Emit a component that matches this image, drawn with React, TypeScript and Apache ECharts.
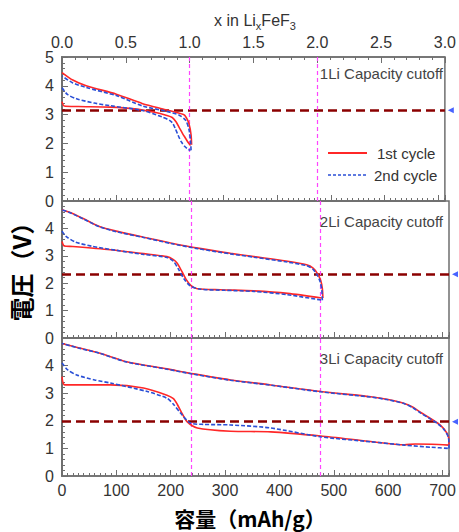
import React, { useEffect, useRef } from "react";
import * as echarts from "echarts";

// ---- data ----
const X_MAX = 712; // mAh/g for 3 Li
const LI_CAP = X_MAX / 3; // capacity per Li
const topTicks = [0, 0.5, 1, 1.5, 2, 2.5, 3];
const cutoffV = [3.15, 2.33, 1.97];
const panelLabels = ["1Li Capacity cutoff", "2Li Capacity cutoff", "3Li Capacity cutoff"];
const legendNames = ["1st cycle", "2nd cycle"];

// 1Li panel
const dis1_1Li = [[0, 3.45], [4, 3.3], [30, 3.28], [89, 3.26], [135, 3.2], [172, 3.08], [195, 2.97], [205, 2.9], [212, 2.75], [218, 2.55], [224, 2.35], [230, 2.17], [235, 2.02], [239, 1.93]];
const chg1_1Li = [[241, 1.95], [240, 2.3], [236, 2.69], [231, 2.9], [226, 3.0], [193, 3.17], [150, 3.38], [101, 3.71], [45, 4.0], [20, 4.2], [0, 4.46]];
const dis2_1Li = [[0, 3.93], [10, 3.7], [27, 3.55], [60, 3.4], [89, 3.31], [150, 3.14], [186, 2.92], [200, 2.8], [206, 2.7], [211, 2.5], [216, 2.28], [222, 2.05], [228, 1.9], [234, 1.8], [239, 1.76]];
const chg2_1Li = [[240, 1.76], [239, 2.1], [236, 2.5], [230, 2.8], [218, 2.98], [193, 3.12], [150, 3.3], [101, 3.66], [45, 3.94], [20, 4.1], [0, 4.34]];

// 2Li panel
const dis1_2Li = [[0, 3.52], [4, 3.36], [20, 3.34], [89, 3.22], [150, 3.08], [193, 2.97], [205, 2.86], [212, 2.73], [220, 2.45], [228, 2.15], [238, 1.9], [249, 1.8], [291, 1.76], [353, 1.72], [415, 1.63], [478, 1.46]];
const chg1_2Li = [[480, 1.46], [479, 1.8], [476, 2.1], [470, 2.35], [462, 2.55], [450, 2.67], [415, 2.8], [353, 2.97], [310, 3.09], [250, 3.28], [200, 3.47], [150, 3.68], [100, 3.9], [70, 4.06], [40, 4.35], [15, 4.58], [0, 4.68]];
const dis2_2Li = [[0, 3.9], [8, 3.7], [25, 3.5], [55, 3.35], [100, 3.2], [150, 3.05], [193, 2.94], [205, 2.8], [214, 2.52], [224, 2.17], [236, 1.9], [255, 1.78], [300, 1.74], [353, 1.7], [415, 1.58], [478, 1.38]];
const chg2_2Li = [[479, 1.38], [478, 1.75], [475, 2.05], [469, 2.32], [461, 2.52], [450, 2.64], [415, 2.77], [353, 2.95], [310, 3.07], [250, 3.26], [200, 3.45], [150, 3.67], [100, 3.88], [70, 4.05], [40, 4.34], [15, 4.57], [0, 4.68]];

// 3Li panel
const dis1_3Li = [[0, 3.6], [5, 3.3], [89, 3.3], [150, 3.19], [193, 2.93], [205, 2.8], [212, 2.6], [220, 2.3], [230, 1.97], [249, 1.74], [310, 1.62], [384, 1.6], [476, 1.45], [568, 1.25], [630, 1.13], [650, 1.16], [680, 1.15], [712, 1.12]];
const chg1_3Li = [[712, 1.12], [711, 1.42], [703, 1.7], [691, 1.92], [675, 2.12], [660, 2.3], [645, 2.5], [630, 2.63], [600, 2.77], [568, 2.87], [476, 3.06], [384, 3.3], [310, 3.48], [242, 3.7], [193, 3.88], [119, 4.14], [70, 4.45], [30, 4.65], [0, 4.8]];
const dis2_3Li = [[0, 4.1], [10, 3.85], [27, 3.66], [60, 3.48], [89, 3.37], [157, 3.06], [193, 2.82], [205, 2.6], [218, 2.28], [236, 1.92], [260, 1.87], [310, 1.85], [384, 1.74], [476, 1.42], [568, 1.24], [630, 1.12], [680, 1.04], [712, 1.0]];
const chg2_3Li = [[712, 1.0], [711, 1.4], [703, 1.68], [691, 1.9], [675, 2.1], [660, 2.28], [645, 2.48], [630, 2.62], [600, 2.76], [568, 2.86], [476, 3.05], [384, 3.29], [310, 3.47], [242, 3.69], [193, 3.87], [119, 4.13], [70, 4.44], [30, 4.64], [0, 4.8]];

const panels = [
  { first: [dis1_1Li, chg1_1Li], second: [dis2_1Li, chg2_1Li] },
  { first: [dis1_2Li, chg1_2Li], second: [dis2_2Li, chg2_2Li] },
  { first: [dis1_3Li, chg1_3Li], second: [dis2_3Li, chg2_3Li] },
];

// ---- styles ----
const RED = "#ff2727";
const BLUE = "#2a4fd6";
const AXIS = "#6f6f6f";
const FONT = "Liberation Sans, Arial, sans-serif";
const CJK = "Noto Sans CJK JP, sans-serif";

const grids = [
  { left: 62, top: 57, width: 387, height: 144 },
  { left: 62, top: 201, width: 387, height: 137 },
  { left: 62, top: 338, width: 387, height: 138 },
];

export default function App() {
  const ref = useRef<HTMLDivElement>(null);

  useEffect(() => {
    if (!ref.current) return;
    const chart = echarts.init(ref.current, undefined, { renderer: "svg" });

    const lineSeries = (name: string, data: number[][], i: number, color: string, dashed: boolean) => ({
      type: "line",
      name,
      data,
      xAxisIndex: i,
      yAxisIndex: i,
      symbol: "none",
      showSymbol: false,
      smooth: 0.25,
      z: dashed ? 4 : 3,
      lineStyle: { color, width: 1.6, type: dashed ? [4, 2] : "solid" },
      itemStyle: { color },
    });

    const series: any[] = [];
    panels.forEach((p, i) => {
      p.first.forEach((d) => series.push(lineSeries(legendNames[0], d, i, RED, false)));
      p.second.forEach((d) => series.push(lineSeries(legendNames[1], d, i, BLUE, true)));
      series.push({
        type: "scatter",
        name: "cutoff" + i,
        xAxisIndex: i,
        yAxisIndex: i,
        data: [[X_MAX + 11, cutoffV[i]]],
        symbol: "triangle",
        symbolSize: 6,
        symbolRotate: 90,
        clip: false,
        silent: true,
        z: 5,
        itemStyle: { color: "#1a3cff" },
        markLine: {
          symbol: "none",
          silent: true,
          z: 2,
          label: { show: false },
          data: [
            { yAxis: cutoffV[i], lineStyle: { color: "#8b0000", width: 2.6, type: [9, 5] } },
            { xAxis: LI_CAP, lineStyle: { color: "#ff44ff", width: 1.2, type: [4, 3] } },
            { xAxis: 2 * LI_CAP, lineStyle: { color: "#ff44ff", width: 1.2, type: [4, 3] } },
          ],
        },
      });
    });

    const xAxes: any[] = grids.map((_, i) => ({
      type: "value",
      gridIndex: i,
      position: "bottom",
      min: 0,
      max: X_MAX,
      interval: 100,
      axisLine: { show: true, lineStyle: { color: AXIS, width: 1.5 } },
      axisTick: { show: true, inside: true, length: 6, lineStyle: { color: AXIS } },
      minorTick: { show: true, splitNumber: 10, length: 3, lineStyle: { color: AXIS } },
      splitLine: { show: false },
      axisLabel: {
        show: i === 2,
        showMaxLabel: false,
        margin: 6,
        fontSize: 16,
        color: "#333",
        fontFamily: FONT,
      },
    }));
    xAxes.push({
      type: "value",
      gridIndex: 0,
      position: "top",
      min: topTicks[0],
      max: topTicks[topTicks.length - 1],
      interval: 0.5,
      axisLine: { show: true, lineStyle: { color: AXIS, width: 1.5 } },
      axisTick: { show: true, inside: true, length: 6, lineStyle: { color: AXIS } },
      minorTick: { show: true, splitNumber: 5, length: 3, lineStyle: { color: AXIS } },
      splitLine: { show: false },
      axisLabel: {
        margin: 7,
        fontSize: 16,
        color: "#333",
        fontFamily: FONT,
        formatter: (v: number) => v.toFixed(1),
      },
    });

    const yAxes = grids.map((_, i) => ({
      type: "value",
      gridIndex: i,
      min: 0,
      max: 5,
      interval: 1,
      axisLine: { show: true, lineStyle: { color: AXIS, width: 2 } },
      axisTick: { show: true, inside: true, length: 6, lineStyle: { color: AXIS } },
      minorTick: { show: true, splitNumber: 5, length: 3, lineStyle: { color: AXIS } },
      splitLine: { show: false },
      axisLabel: {
        margin: 8,
        fontSize: 16,
        color: "#333",
        fontFamily: FONT,
        showMaxLabel: i === 0,
      },
    }));

    const graphics: any[] = [
      {
        type: "text",
        x: 255,
        y: 20,
        style: {
          text: "x in Li{s|x}FeF{s|3}",
          fill: "#333",
          font: `16px ${FONT}`,
          align: "center",
          verticalAlign: "middle",
          rich: {
            s: { fontSize: 11, fontFamily: FONT, fill: "#333", lineHeight: 11, verticalAlign: "bottom" },
          },
          lineHeight: 23,
        },
      },
      {
        type: "text",
        x: 250,
        y: 518,
        style: {
          text: "容量（mAh/g）",
          fill: "#000",
          font: `bold 21px ${CJK}`,
          align: "center",
          verticalAlign: "middle",
        },
      },
      {
        type: "text",
        x: 20,
        y: 266,
        rotation: Math.PI / 2,
        style: {
          text: "電圧（V）",
          fill: "#000",
          font: `bold 24px ${CJK}`,
          align: "center",
          verticalAlign: "middle",
        },
      },
    ];
    const labelY = [73, 221, 358];
    panelLabels.forEach((t, i) => {
      graphics.push({
        type: "text",
        x: 443,
        y: labelY[i],
        z: 10,
        style: { text: t, fill: "#444", font: `15px ${FONT}`, align: "right", verticalAlign: "middle" },
      });
    });
    // legend (inside the top panel)
    const legendRows = [
      { name: legendNames[0], color: RED, dash: "solid", y: 153, tx: 377 },
      { name: legendNames[1], color: BLUE, dash: [3, 2], y: 175, tx: 374 },
    ];
    legendRows.forEach((r) => {
      graphics.push({
        type: "line",
        z: 10,
        shape: { x1: 328, y1: r.y, x2: 367, y2: r.y },
        style: { stroke: r.color, lineWidth: r.dash === "solid" ? 1.8 : 1.6, lineDash: r.dash === "solid" ? null : r.dash },
      });
      graphics.push({
        type: "text",
        z: 10,
        x: r.tx,
        y: r.y,
        style: { text: r.name, fill: "#333", font: `15px ${FONT}`, align: "left", verticalAlign: "middle" },
      });
    });

    chart.setOption({
      animation: false,
      backgroundColor: "#fff",
      grid: grids.map((g) => ({ ...g, show: true, borderColor: AXIS, borderWidth: 1.5, backgroundColor: "transparent" })),
      xAxis: xAxes,
      yAxis: yAxes,
      graphic: graphics,
      series,
    });

    return () => chart.dispose();
  }, []);

  return (
    <div
      ref={ref}
      style={{ position: "fixed", left: 0, top: 0, width: 459, height: 532, background: "#fff" }}
    />
  );
}
